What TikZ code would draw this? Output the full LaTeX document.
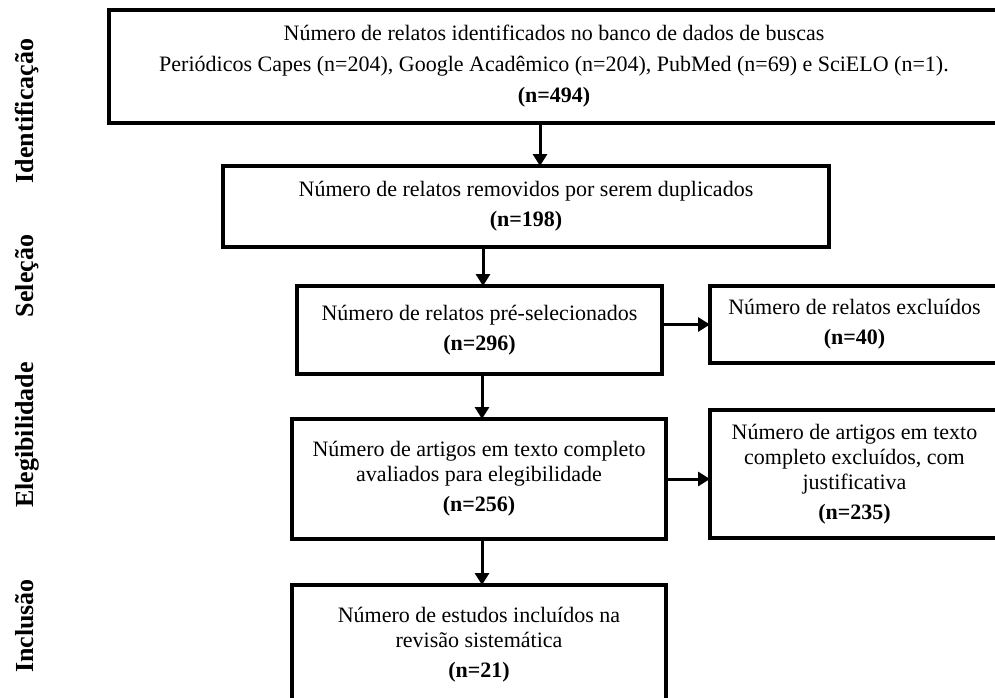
\documentclass[tikz,border=0pt]{standalone}
\usepackage{fontspec}
\setmainfont{Liberation Serif}
\usetikzlibrary{arrows.meta}
\begin{document}
\begin{tikzpicture}[x=1pt,y=-1pt,
  box/.style={draw,line width=3.5pt,inner sep=0pt,outer sep=0pt,align=center,
    font=\fontsize{22}{25}\selectfont},
  arr/.style={line width=3pt,-{Triangle[length=12pt,width=14pt]}},
  phase/.style={rotate=90,anchor=base,font=\fontsize{26}{28}\selectfont\bfseries}]
\useasboundingbox[fill=white] (0,0) rectangle (995,697);
% boxes
\node[box,minimum width=890pt,minimum height=113pt] (b1) at (554,66.5)
  {Número de relatos identificados no banco de dados de buscas\\[6pt]
   Periódicos Capes (n=204), Google Acadêmico (n=204), PubMed (n=69) e SciELO (n=1).\\[6pt]
   \textbf{(n=494)}};
\node[box,minimum width=606pt,minimum height=81pt] (b2) at (526,206.5)
  {Número de relatos removidos por serem duplicados\\[5pt]\textbf{(n=198)}};
\node[box,minimum width=365pt,minimum height=88pt] (b3) at (479.5,330)
  {Número de relatos pré-selecionados\\[5pt]\textbf{(n=296)}};
\node[box,minimum width=289pt,minimum height=77pt] (b4) at (854.5,324.5)
  {Número de relatos excluídos\\[5pt]\textbf{(n=40)}};
\node[box,minimum width=374pt,minimum height=120pt] (b5) at (479,479)
  {Número de artigos em texto completo\\avaliados para elegibilidade\\[5pt]\textbf{(n=256)}};
\node[box,minimum width=289pt,minimum height=128pt] (b6) at (854.5,474)
  {Número de artigos em texto\\completo excluídos, com\\justificativa\\[5pt]\textbf{(n=235)}};
\node[box,minimum width=374pt,minimum height=120pt] (b7) at (479,645)
  {Número de estudos incluídos na\\revisão sistemática\\[5pt]\textbf{(n=21)}};
% connectors
\draw[arr] ([xshift=-14pt]b1.south) -- ([xshift=-14pt]b1.south |- b2.north);
\draw[arr] ([xshift=-43pt]b2.south) -- ([xshift=-43pt]b2.south |- b3.north);
\draw[arr] ([xshift=2.5pt]b3.south) -- ([xshift=2.5pt]b3.south |- b5.north);
\draw[arr] ([xshift=3pt]b5.south) -- ([xshift=3pt]b5.south |- b7.north);
\draw[arr] (b3.east |- b4.west) -- (b4.west);
\draw[arr] (b5.east) -- (b5.east -| b6.west);
% phase labels
\node[phase] (p1) at (33,111) {Identificação};
\node[phase] (p2) at (33,276) {Seleção};
\node[phase] (p3) at (33,435) {Elegibilidade};
\node[phase] (p4) at (33,626) {Inclusão};
\end{tikzpicture}
\end{document}
